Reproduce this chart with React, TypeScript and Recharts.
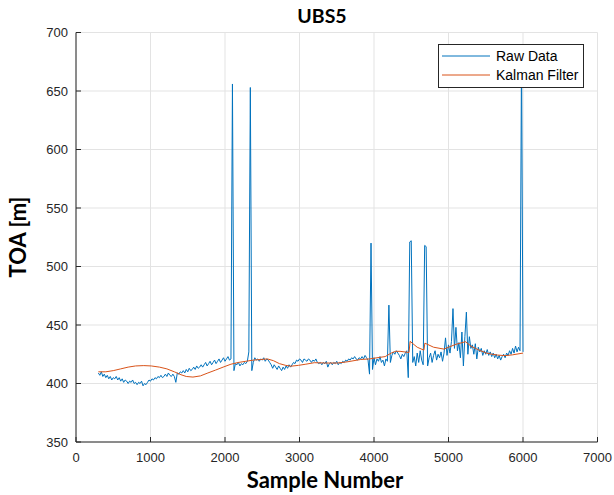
import React from 'react';
import { LineChart, Line, XAxis, YAxis, CartesianGrid } from 'recharts';

// Raw TOA samples, every 20 samples from sample 300 to 6000
const rawStartSample = 300;
const rawSampleStep = 20;
const rawValues = [
  409, 407, 410, 406, 408, 405, 407, 404, 406, 403,
  405, 404, 406, 403, 405, 402, 404, 401, 403, 402,
  400, 402, 401, 403, 400, 401, 399, 401, 400, 402,
  398, 400, 399, 401, 403, 402, 404, 403, 405, 404,
  406, 405, 407, 405, 406, 408, 406, 409, 407, 406,
  408, 406, 401, 409, 408, 410, 409, 411, 409, 412,
  410, 413, 411, 412, 414, 412, 415, 413, 414, 416,
  414, 416, 418, 415, 417, 419, 416, 418, 420, 417,
  419, 421, 418, 420, 422, 419, 421, 423, 420, 421,
  656, 411, 417, 416, 418, 415, 417, 416, 418, 417,
  419, 427, 653, 411, 418, 422, 420, 421, 419, 421,
  420, 422, 419, 421, 420, 418, 416, 413, 416, 414,
  412, 415, 413, 411, 414, 412, 415, 413, 416, 414,
  416, 418, 417, 420, 419, 421, 420, 418, 421, 420,
  419, 421, 420, 418, 420, 419, 421, 418, 417, 418,
  416, 418, 417, 419, 414, 417, 418, 416, 418, 417,
  419, 416, 418, 417, 419, 418, 420, 419, 421, 420,
  422, 421, 423, 421, 420, 422, 421, 423, 421, 424,
  422, 420, 408, 520, 412, 422, 416, 421, 419, 423,
  418, 420, 415, 421, 419, 467, 418, 424, 427, 425,
  428, 426, 424, 421, 425, 423, 426, 428, 405, 521,
  522, 418, 423, 415, 426, 418, 428, 420, 416, 518,
  517, 415, 422, 426, 418, 424, 428, 420, 425, 422,
  427, 419, 426, 439, 424, 433, 426, 436, 464, 430,
  448, 428, 435, 422, 444, 415, 440, 461, 425, 440,
  430, 433, 425, 434, 421, 431, 427, 430, 424, 428,
  425, 429, 424, 427, 423, 426, 422, 425, 421, 424,
  420, 423, 425, 422, 426, 424, 428, 425, 430, 426,
  432, 427, 431, 428, 680, 427,
];

// Kalman filter estimate
const kalmanSamples = [
  300, 400, 500, 600, 700, 800, 910, 1010, 1120, 1220,
  1320, 1410, 1480, 1570, 1670, 1770, 1875, 1975, 2080, 2180,
  2280, 2380, 2480, 2570, 2650, 2730, 2815, 2885, 2985, 3085,
  3200, 3340, 3510, 3640, 3820, 3940, 4040, 4150, 4230, 4290,
  4350, 4470, 4485, 4580, 4670, 4683, 4800, 4940, 5000, 5100,
  5228, 5300, 5410, 5510, 5585, 5660, 5760, 5860, 6000,
];
const kalmanValues = [
  410, 410, 411, 412.5, 414, 415, 415.3, 415, 414, 412.5,
  410, 407.5, 406, 405.5, 406.5, 409, 411.5, 414, 416.5, 418,
  419, 420, 420.5, 421, 419.5, 417, 415.5, 414.8, 415.5, 416.5,
  417.8, 417.5, 417.5, 418.5, 420.5, 421, 422, 423, 426, 427.5,
  427.5, 426.5, 436, 431, 428.5, 434.5, 431, 429.4, 431, 433.5,
  435.7, 432, 428.5, 426, 425, 424.3, 423.8, 424.5, 426,
];

const xTicks = [0, 1000, 2000, 3000, 4000, 5000, 6000, 7000];
const yTicks = [350, 400, 450, 500, 550, 600, 650, 700];

const titleText = 'UBS5';
const xLabelText = 'Sample Number';
const yLabelText = 'TOA [m]';
const legendNames = ['Raw Data', 'Kalman Filter'];

const rawData = rawValues.map((v, i) => ({ sample: rawStartSample + i * rawSampleStep, value: v }));
const kalmanData = kalmanSamples.map((s, i) => ({ sample: s, value: kalmanValues[i] }));

const BLUE = '#0072BD';
const ORANGE = '#D95319';
const AXIS = '#262626';
const tickFont = { fill: AXIS, fontSize: 13, fontFamily: '"Liberation Sans", Arial, sans-serif' };
const labelFont = 'Lato, "Open Sans", sans-serif';

export default function App() {
  return (
    <div style={{ position: 'absolute', left: 0, top: 0, width: 614, height: 495, background: '#fff' }}>
      <LineChart width={614} height={495} margin={{ top: 32.5, right: 16.5, bottom: 0, left: 0 }}>
        <CartesianGrid stroke="#e3e3e3" strokeWidth={1} />
        <XAxis
          xAxisId={0}
          type="number"
          dataKey="sample"
          domain={[0, 7000]}
          ticks={xTicks}
          height={53}
          stroke={AXIS}
          tickSize={-5}
          tickMargin={15.5}
          tick={tickFont}
          interval={0}
          allowDataOverflow
        />
        <XAxis
          xAxisId="top"
          orientation="top"
          type="number"
          domain={[0, 7000]}
          ticks={xTicks}
          height={0}
          stroke={AXIS}
          tickSize={-5}
          tick={false}
          interval={0}
        />
        <YAxis
          yAxisId={0}
          type="number"
          domain={[350, 700]}
          ticks={yTicks}
          width={76}
          stroke={AXIS}
          tickSize={-5}
          tickMargin={13}
          tick={tickFont}
          interval={0}
          allowDataOverflow
        />
        <YAxis
          yAxisId="right"
          orientation="right"
          type="number"
          domain={[350, 700]}
          ticks={yTicks}
          width={0}
          stroke={AXIS}
          tickSize={-5}
          tick={false}
          interval={0}
        />
        <Line
          data={rawData}
          dataKey="value"
          name={legendNames[0]}
          stroke={BLUE}
          strokeWidth={1}
          dot={false}
          isAnimationActive={false}
          type="linear"
        />
        <Line
          data={kalmanData}
          dataKey="value"
          name={legendNames[1]}
          stroke={ORANGE}
          strokeWidth={1}
          dot={false}
          isAnimationActive={false}
          type="linear"
        />
      </LineChart>
      <svg
        width={614}
        height={495}
        style={{ position: 'absolute', left: 0, top: 0, pointerEvents: 'none' }}
      >
        <text x={322} y={23} textAnchor="middle" fontFamily={labelFont} fontWeight={700} fontSize={19.5} fill="#000">
          {titleText}
        </text>
        <text x={325} y={488} textAnchor="middle" fontFamily={labelFont} fontWeight={700} fontSize={22} fill="#000">
          {xLabelText}
        </text>
        <text
          x={26}
          y={237}
          textAnchor="middle"
          transform="rotate(-90, 26, 237)"
          fontFamily={labelFont}
          fontWeight={700}
          fontSize={22}
          fill="#000"
        >
          {yLabelText}
        </text>
        <rect x={438.5} y={44.5} width={145} height={43} fill="#fff" stroke={AXIS} strokeWidth={1} />
        <line x1={442} x2={490} y1={56} y2={56} stroke={BLUE} strokeWidth={1} />
        <line x1={442} x2={490} y1={75} y2={75} stroke={ORANGE} strokeWidth={1} />
        <text x={496} y={61} fontFamily='"Liberation Sans", Arial, sans-serif' fontSize={14} fill="#000">
          {legendNames[0]}
        </text>
        <text x={496} y={80} fontFamily='"Liberation Sans", Arial, sans-serif' fontSize={14} fill="#000">
          {legendNames[1]}
        </text>
      </svg>
    </div>
  );
}
